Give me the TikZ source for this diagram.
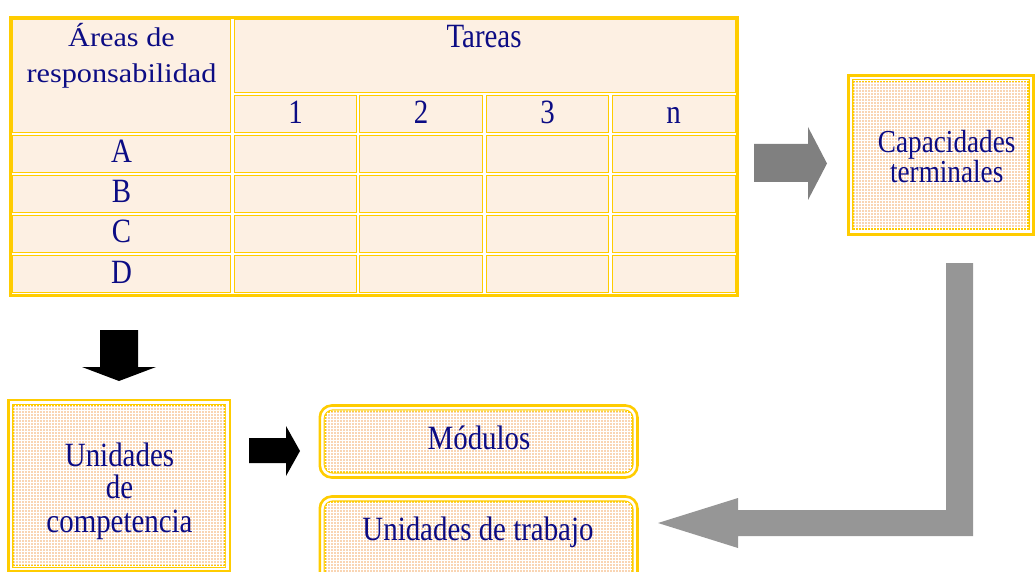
\documentclass[tikz,border=0pt]{standalone}
\usepackage{fontspec}
\setmainfont{Liberation Serif}
\newfontfamily\bigfont[FakeStretch=0.85]{Liberation Serif}
\newfontfamily\areafont[FakeStretch=1.12]{Liberation Serif}
\usetikzlibrary{patterns,fit}
\definecolor{gold}{HTML}{FFCC00}
\definecolor{cellfill}{HTML}{FDF0E3}
\definecolor{peach}{HTML}{F9D5B4}
\definecolor{navy}{HTML}{0C0C84}
\definecolor{darkgrayarrow}{HTML}{808080}
\definecolor{lightgrayarrow}{HTML}{969696}
\tikzset{
  cellbox/.style={draw=gold, line width=1.4pt, fill=cellfill, inner sep=0pt},
  tableframe/.style={draw=gold, line width=3pt, inner sep=0pt},
  lbl/.style={text=navy, font=\bigfont\fontsize{34}{34}\selectfont, anchor=base, inner sep=0pt},
  clbl/.style={text=navy, font=\bigfont\fontsize{32}{32}\selectfont, anchor=base, inner sep=0pt},
  albl/.style={text=navy, font=\areafont\fontsize{27}{27}\selectfont, anchor=base, inner sep=0pt},
  outerline/.style={draw=gold, line width=2.6pt, fill=white, inner sep=0pt},
  innerbox/.style={draw=gold, line width=2.2pt, fill=peach, inner sep=0pt,
    postaction={pattern=grid, pattern color=white}},
  grayarrow/.style={fill=darkgrayarrow},
  lgrayarrow/.style={fill=lightgrayarrow},
  blackarrow/.style={fill=black}
}
\begin{document}
\begin{tikzpicture}[x=1pt,y=-1pt]
\useasboundingbox (0,0) rectangle (1036,572);
\clip (0,0) rectangle (1036,572);

% ---- table ----
\node[tableframe, fit={(10.5,17.5) (737.5,295.5)}] (tbl) {};
\node[cellbox, fit={(12.7,19.7) (230.3,132.3)}] (areas) {};
\node[cellbox, fit={(234.7,19.7) (735.3,92.3)}] (tareas) {};
\foreach \c/\xa/\xb in {1/234.7/356.3, 2/359.7/482.3, 3/486.2/608.3, 4/612.2/735.3}{
  \node[cellbox, fit={(\xa,95.7) (\xb,132.3)}] (num\c) {};
}
\foreach \r/\ya/\yb in {A/135.7/172.3, B/175.7/212.3, C/215.7/252.3, D/255.7/292.3}{
  \foreach \c/\xa/\xb in {0/12.7/230.3, 1/234.7/356.3, 2/359.7/482.3, 3/486.2/608.3, 4/612.2/735.3}{
    \node[cellbox, fit={(\xa,\ya) (\xb,\yb)}] (cell\r\c) {};
  }
}
\node[albl] (areas1) at (121.5,47) {Áreas de};
\node[albl] (areas2) at (121.5,83) {responsabilidad};
\node[lbl] (tareasl) at (484,48) {Tareas};
\node[lbl] (n1) at (295.5,124) {1};
\node[lbl] (n2) at (421,124) {2};
\node[lbl] (n3) at (547.5,124) {3};
\node[lbl] (nn) at (673.5,124) {n};
\node[lbl] (lA) at (121.5,163) {A};
\node[lbl] (lB) at (121.5,203) {B};
\node[lbl] (lC) at (121.5,243) {C};
\node[lbl] (lD) at (121.5,283) {D};

% ---- Capacidades terminales ----
\node[outerline, fit={(848.3,75.5) (1033.5,234.5)}] (capout) {};
\node[innerbox, fit={(853.3,80.5) (1028.5,229.3)}] (cap) {};
\node[clbl] (cap1) at (946.7,153) {Capacidades};
\node[clbl] (cap2) at (946.7,183) {terminales};

% ---- Unidades de competencia ----
\node[outerline, fit={(8.5,400) (229.8,571)}] (ucout) {};
\node[innerbox, fit={(13.3,405.3) (225,566.5)}] (uc) {};
\node[lbl] (uc1) at (119.5,466) {Unidades};
\node[lbl] (uc2) at (119.5,498) {de};
\node[lbl] (uc3) at (119.5,532) {competencia};

% ---- Módulos ----
\node[outerline, rounded corners=12pt, fit={(319.8,405.5) (637.5,477.5)}] (modout) {};
\node[innerbox, rounded corners=8pt, fit={(324.8,410.5) (632.5,472.5)}] (mod) {};
\node[lbl] (modl) at (479,449) {Módulos};

% ---- Unidades de trabajo ----
\node[outerline, rounded corners=12pt, fit={(319.8,496.5) (637.5,592)}] (utout) {};
\node[innerbox, rounded corners=8pt, fit={(324.8,501.5) (632.5,587)}] (ut) {};
\node[lbl] (utl) at (478,540) {Unidades de trabajo};

% ---- block arrows ----
\fill[grayarrow] (754,144) -- (808,144) -- (808,127) -- (827,163.5) -- (808,200) -- (808,182) -- (754,182) -- cycle;
\fill[lgrayarrow] (946,263) -- (973,263) -- (973,536) -- (738,536) -- (738,548) -- (658,523) -- (738,498) -- (738,510) -- (946,510) -- cycle;
\fill[blackarrow] (100,330) -- (138,330) -- (138,367) -- (156,367) -- (119,381) -- (82,367) -- (100,367) -- cycle;
\fill[blackarrow] (249,438) -- (286,438) -- (286,426) -- (300,451) -- (286,476) -- (286,463) -- (249,463) -- cycle;
\end{tikzpicture}
\end{document}
